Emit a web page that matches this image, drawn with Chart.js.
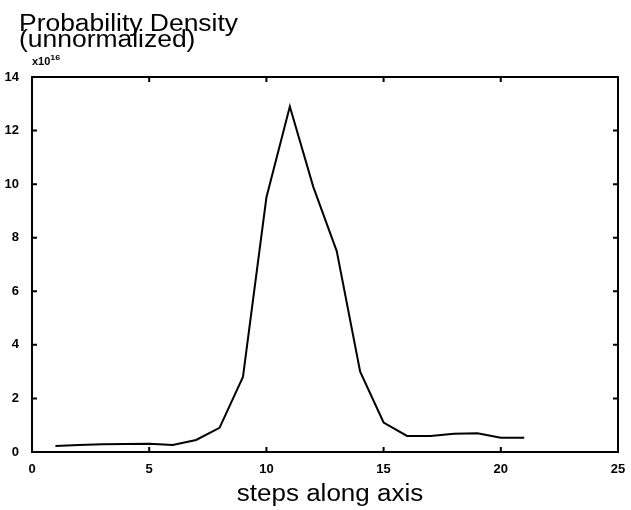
<!DOCTYPE html>
<html>
<head>
<meta charset="utf-8">
<script src="https://cdn.jsdelivr.net/npm/chart.js@4/dist/chart.umd.min.js"></script>
<style>
  html, body { margin: 0; padding: 0; background: #fff; }
  canvas { display: block; }
</style>
</head>
<body>
<canvas id="chart" width="631" height="510"></canvas>
<script>
// values (units of 1e16)
const steps = [1, 2, 3, 4, 5, 6, 7, 8, 9, 10, 11, 12, 13, 14, 15, 16, 17, 18, 19, 20, 21];
const density = [0.22, 0.26, 0.29, 0.3, 0.31, 0.26, 0.45, 0.9, 2.8, 9.5, 12.9, 9.9, 7.5, 3.0, 1.1, 0.6, 0.6, 0.68, 0.7, 0.53, 0.53];
const xTicks = [0, 5, 10, 15, 20, 25];
const yTicks = [0, 2, 4, 6, 8, 10, 12, 14];
const titleLines = ['Probability Density', '(unnormalized)'];
const xTitle = 'steps along axis';
const multiplier = 'x10';
const exponent = '16';

const FONT = '"Liberation Sans", Arial, Helvetica, sans-serif';

// the scanned lettering is a bit wider than Arial, so stretch it sideways
function wideText(ctx, text, x, y, stretch, align) {
  ctx.save();
  ctx.translate(x, y);
  ctx.scale(stretch, 1);
  ctx.textAlign = align || 'left';
  ctx.fillText(text, 0, 0);
  ctx.restore();
}

// box round the plot, inward ticks on all four sides, titles and the x10^16 label
const framePlugin = {
  id: 'frame',
  afterDraw(chart) {
    const { ctx, chartArea: a, scales: { x, y } } = chart;
    ctx.save();
    ctx.strokeStyle = '#000';
    ctx.lineWidth = 2;
    ctx.strokeRect(a.left, a.top, a.right - a.left, a.bottom - a.top);

    ctx.beginPath();
    xTicks.forEach((v) => {
      const px = x.getPixelForValue(v);
      ctx.moveTo(px, a.bottom);
      ctx.lineTo(px, a.bottom - 5);
      ctx.moveTo(px, a.top);
      ctx.lineTo(px, a.top + 5);
    });
    yTicks.forEach((v) => {
      const py = y.getPixelForValue(v);
      ctx.moveTo(a.left, py);
      ctx.lineTo(a.left + 5, py);
      ctx.moveTo(a.right, py);
      ctx.lineTo(a.right - 5, py);
    });
    ctx.stroke();

    ctx.fillStyle = '#000';
    ctx.textBaseline = 'alphabetic';

    // chart title, two tight lines
    ctx.font = '23px ' + FONT;
    wideText(ctx, titleLines[0], 19, 31, 1.15);
    wideText(ctx, titleLines[1], 19, 47, 1.15);

    // axis title
    ctx.font = '23px ' + FONT;
    wideText(ctx, xTitle, (a.left + a.right) / 2 + 5, 501, 1.13, 'center');

    // multiplier above the y axis
    ctx.font = 'bold 10px ' + FONT;
    wideText(ctx, multiplier, 32, 65, 1.1);
    const w = ctx.measureText(multiplier).width * 1.1;
    ctx.font = 'bold 8px ' + FONT;
    wideText(ctx, exponent, 32 + w, 60, 1.1);
    ctx.restore();
  }
};

const ctx = document.getElementById('chart').getContext('2d');

new Chart(ctx, {
  type: 'line',
  data: {
    datasets: [{
      data: steps.map((s, i) => ({ x: s, y: density[i] })),
      borderColor: '#000',
      borderWidth: 2,
      pointRadius: 0,
      tension: 0,
      fill: false,
    }],
  },
  options: {
    responsive: false,
    animation: false,
    devicePixelRatio: 1,
    layout: {
      padding: { left: 0, right: 13, top: 77, bottom: 0 },
    },
    scales: {
      x: {
        type: 'linear',
        min: 0,
        max: 25,
        afterBuildTicks: (scale) => {
          scale.ticks = xTicks.map((v) => ({ value: v }));
        },
        afterFit: (scale) => {
          scale.height = 58;
        },
        grid: { display: false },
        border: { display: false },
        ticks: {
          color: '#000',
          padding: 2,
          maxRotation: 0,
          autoSkip: false,
          font: { family: FONT, size: 13, weight: 'bold' },
        },
      },
      y: {
        type: 'linear',
        min: 0,
        max: 14,
        afterBuildTicks: (scale) => {
          scale.ticks = yTicks.map((v) => ({ value: v }));
        },
        afterFit: (scale) => {
          scale.width = 32;
        },
        grid: { display: false },
        border: { display: false },
        ticks: {
          color: '#000',
          padding: 5,
          font: { family: FONT, size: 13, weight: 'bold' },
        },
      },
    },
    plugins: {
      legend: { display: false },
      tooltip: { enabled: false },
      title: { display: false },
    },
  },
  plugins: [framePlugin],
});
</script>
</body>
</html>
